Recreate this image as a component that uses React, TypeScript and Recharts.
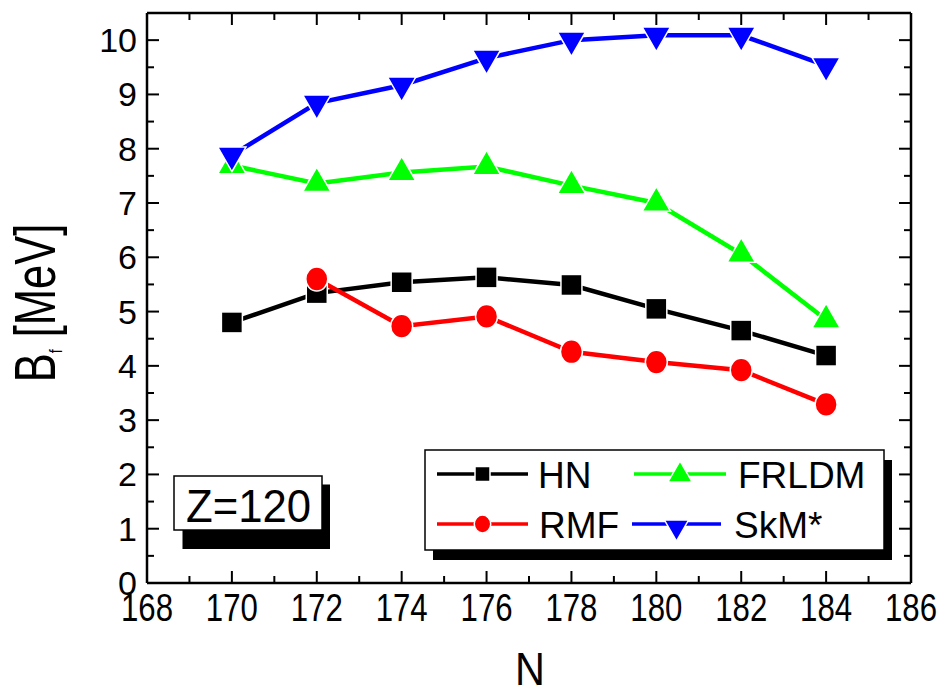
import { Line, LineChart, XAxis, YAxis } from "recharts";

// fission barrier heights B_f (MeV) of Z=120 isotopes vs neutron number N
const neutronNumbers = [170, 172, 174, 176, 178, 180, 182, 184];
const hnBarrier = [4.8, 5.34, 5.54, 5.63, 5.49, 5.05, 4.65, 4.19];
const rmfBarrier = [null, 5.6, 4.73, 4.91, 4.26, 4.07, 3.92, 3.29];
const frldmBarrier = [7.69, 7.36, 7.56, 7.67, 7.32, 7.0, 6.06, 4.85];
const skmBarrier = [7.88, 8.84, 9.17, 9.67, 10.0, 10.09, 10.09, 9.53];

const nTicks = [168, 169, 170, 171, 172, 173, 174, 175, 176, 177, 178, 179, 180, 181, 182, 183, 184, 185, 186];
const bTicks = [0, 0.5, 1, 1.5, 2, 2.5, 3, 3.5, 4, 4.5, 5, 5.5, 6, 6.5, 7, 7.5, 8, 8.5, 9, 9.5, 10];

const FONT = "'Liberation Sans', Arial, sans-serif";

type Shape = "square" | "circle" | "up" | "down";

const series: { key: string; name: string; color: string; shape: Shape }[] = [
  { key: "hn", name: "HN", color: "#000000", shape: "square" },
  { key: "rmf", name: "RMF", color: "#ff0000", shape: "circle" },
  { key: "frldm", name: "FRLDM", color: "#00ff00", shape: "up" },
  { key: "skm", name: "SkM*", color: "#0000ff", shape: "down" },
];

const table = neutronNumbers.map((n, i) => ({
  n,
  hn: hnBarrier[i],
  rmf: rmfBarrier[i],
  frldm: frldmBarrier[i],
  skm: skmBarrier[i],
}));

function symbol(shape: Shape, cx: number, cy: number, s: number, color: string, key?: string) {
  const common = { fill: color, stroke: "#fff", strokeWidth: 1.5 };
  if (shape === "square") {
    return <rect key={key} x={cx - s / 2} y={cy - s / 2} width={s} height={s} {...common} />;
  }
  if (shape === "circle") {
    return <ellipse key={key} cx={cx} cy={cy} rx={s / 2} ry={s * 0.54} {...common} />;
  }
  // triangles are centred on their centroid
  const w = s * 1.15;
  const h = s;
  const d =
    shape === "up"
      ? `M${cx},${cy - (2 * h) / 3}L${cx + w / 2},${cy + h / 3}L${cx - w / 2},${cy + h / 3}Z`
      : `M${cx},${cy + (2 * h) / 3}L${cx + w / 2},${cy - h / 3}L${cx - w / 2},${cy - h / 3}Z`;
  return <path key={key} d={d} {...common} />;
}

const markerSize: Record<Shape, number> = { square: 21, circle: 22, up: 24.5, down: 24.5 };

function dotFor(shape: Shape, color: string) {
  return (props: any) => {
    const { cx, cy, index } = props;
    if (cx == null || cy == null || props.value == null) return <g key={`dot-${index}`} />;
    return symbol(shape, cx, cy, markerSize[shape], color, `dot-${index}`);
  };
}

function BottomTick({ x, y, payload }: any) {
  const major = payload.value % 2 === 0;
  return (
    <g>
      <line x1={x} y1={y} x2={x} y2={y - (major ? 12 : 7)} stroke="#000" strokeWidth={2} />
      {major && (
        <text
          transform={`translate(${x},${y + 38}) scale(0.8,1)`}
          textAnchor="middle"
          fontSize={39}
          fontFamily={FONT}
          fill="#000"
        >
          {payload.value}
        </text>
      )}
    </g>
  );
}

function TopTick({ x, y, payload }: any) {
  const major = payload.value % 2 === 0;
  return <line x1={x} y1={y} x2={x} y2={y + (major ? 12 : 7)} stroke="#000" strokeWidth={2} />;
}

function LeftTick({ x, y, payload }: any) {
  const major = Number.isInteger(payload.value);
  return (
    <g>
      <line x1={x} y1={y} x2={x + (major ? 12 : 7)} y2={y} stroke="#000" strokeWidth={2} />
      {major && (
        <text x={x - 10} y={y + 12} textAnchor="end" fontSize={34} fontFamily={FONT} fill="#000">
          {payload.value}
        </text>
      )}
    </g>
  );
}

function RightTick({ x, y, payload }: any) {
  const major = Number.isInteger(payload.value);
  return <line x1={x} y1={y} x2={x - (major ? 12 : 7)} y2={y} stroke="#000" strokeWidth={2} />;
}

function NLabel({ viewBox }: any) {
  const { x, y, width } = viewBox;
  return (
    <text
      transform={`translate(${x + width / 2 + 1},${y + 102}) scale(0.9,1)`}
      textAnchor="middle"
      fontSize={46}
      fontFamily={FONT}
      fill="#000"
    >
      N
    </text>
  );
}

function BLabel({ viewBox }: any) {
  const { x, y, height } = viewBox;
  return (
    <text
      transform={`translate(${x - 91},${y + height / 2 + 5}) rotate(-90) scale(0.75,1)`}
      textAnchor="middle"
      fontSize={58}
      fontFamily={FONT}
      fill="#000"
    >
      B
      <tspan fontSize={19} dy={7}>
        f
      </tspan>
      <tspan dy={-7}>{"\u00a0[MeV]"}</tspan>
    </text>
  );
}

// legend rows: [series index, line start, line end, text x, row centre]
const legendRows: [number, number, number, number, number][] = [
  [0, 437, 528, 538, 474],
  [2, 634, 726, 738, 474],
  [1, 437, 528, 539, 524],
  [3, 632, 721, 734, 524],
];

function Overlay() {
  return (
    <svg width={947} height={689} style={{ position: "absolute", left: 0, top: 0, pointerEvents: "none" }}>
      {/* Z=120 tag */}
      <rect x={182.5} y={484.5} width={147.5} height={64.5} fill="#000" />
      <rect x={174} y={476} width={148} height={54} fill="#fff" stroke="#000" strokeWidth={1.5} />
      <text
        transform="translate(248.5,522) scale(0.93,1)"
        textAnchor="middle"
        fontSize={47}
        fontFamily={FONT}
        fill="#000"
      >
        Z=120
      </text>

      {/* legend */}
      <rect x={433} y={460} width={459} height={100} fill="#000" />
      <rect x={425} y={450} width={459} height={100} fill="#fff" stroke="#000" strokeWidth={1.5} />
      {legendRows.map(([si, x1, x2, tx, cy]) => {
        const s = series[si];
        const size = s.shape === "square" ? 15 : s.shape === "circle" ? 16.5 : 21;
        return (
          <g key={s.key}>
            <line x1={x1} y1={cy} x2={x2} y2={cy} stroke={s.color} strokeWidth={3.5} />
            {symbol(s.shape, (x1 + x2) / 2, cy + (s.shape === "up" ? 1 : s.shape === "down" ? 3 : 0), size, s.color)}
            <text x={tx} y={cy + 14} fontSize={37} fontFamily={FONT} fill="#000">
              {s.name}
            </text>
          </g>
        );
      })}
    </svg>
  );
}

export default function App() {
  const axisLine = { stroke: "#000", strokeWidth: 2.5 };
  return (
    <div style={{ position: "absolute", left: 0, top: 0, width: 947, height: 689, background: "#fff" }}>
      <LineChart width={947} height={689} data={table} margin={{ top: 12, right: 35, bottom: 105, left: 146 }}>
        <XAxis
          xAxisId="bottom"
          dataKey="n"
          type="number"
          domain={[168, 186]}
          ticks={nTicks}
          interval={0}
          allowDataOverflow
          height={1}
          tickSize={0}
          tickMargin={0}
          tickLine={false}
          axisLine={axisLine}
          tick={BottomTick}
          label={{ content: NLabel }}
        />
        <XAxis
          xAxisId="top"
          orientation="top"
          dataKey="n"
          type="number"
          domain={[168, 186]}
          ticks={nTicks}
          interval={0}
          allowDataOverflow
          height={1}
          tickSize={0}
          tickMargin={0}
          tickLine={false}
          axisLine={axisLine}
          tick={TopTick}
        />
        <YAxis
          yAxisId="left"
          type="number"
          domain={[0, 10.5]}
          ticks={bTicks}
          interval={0}
          allowDataOverflow
          width={1}
          tickSize={0}
          tickMargin={0}
          tickLine={false}
          axisLine={axisLine}
          tick={LeftTick}
          label={{ content: BLabel }}
        />
        <YAxis
          yAxisId="right"
          orientation="right"
          type="number"
          domain={[0, 10.5]}
          ticks={bTicks}
          interval={0}
          allowDataOverflow
          width={1}
          tickSize={0}
          tickMargin={0}
          tickLine={false}
          axisLine={axisLine}
          tick={RightTick}
        />
        {series.map((s) => (
          <Line
            key={s.key}
            xAxisId="bottom"
            yAxisId="left"
            dataKey={s.key}
            name={s.name}
            stroke={s.color}
            strokeWidth={4.5}
            dot={dotFor(s.shape, s.color)}
            activeDot={false}
            isAnimationActive={false}
          />
        ))}
      </LineChart>
      <Overlay />
    </div>
  );
}
